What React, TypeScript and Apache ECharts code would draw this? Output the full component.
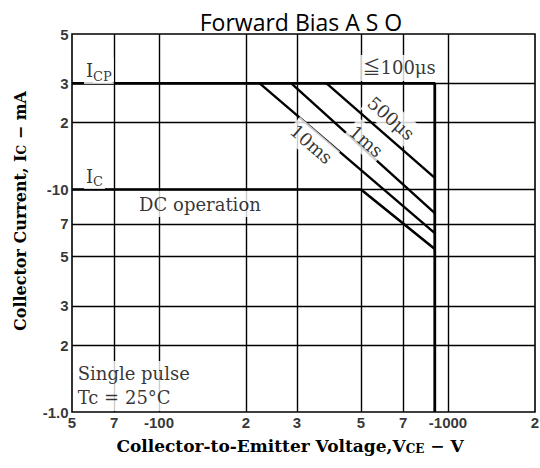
import React, { useEffect, useRef } from "react";
import * as echarts from "echarts";

// Axis ticks (log-log plot)
const xTickValues = [50, 70, 100, 200, 300, 500, 700, 1000, 2000];
const xTickLabels = ["5", "7", "-100", "2", "3", "5", "7", "-1000", "2"];
const yTickValues = [1, 2, 3, 5, 7, 10, 20, 30, 50];
const yTickLabels = ["-1.0", "2", "3", "5", "7", "-10", "2", "3", "5"];
const xGrid = [70, 100, 200, 300, 500, 700, 1000];
const yGrid = [2, 3, 5, 7, 10, 20, 30];

// Safe operating area curves (V in volts, I in mA)
const boundaryV = [50, 900, 900];
const boundaryI = [30, 30, 1];
const dcV = [50, 500, 900];
const dcI = [10, 10, 5.4];
const p10msV = [223, 900];
const p10msI = [30, 6.37];
const p1msV = [287, 900];
const p1msI = [30, 7.84];
const p500usV = [380, 900];
const p500usI = [30, 11.27];

// Annotations
const noteTexts = ["I{s|CP}", "I{s|C}", "DC operation", "≦100μs", "500μs", "1ms", "10ms", "Single pulse\nTc = 25°C"];
const noteV = [55, 55, 84, 498, 636, 521, 337, 51.5];
const noteI = [34.1, 11.5, 8.6, 35.2, 20.9, 16.5, 16.0, 1.31];
const noteRotate = [0, 0, 0, 0, -41, -41, -41, 0];
const noteAlign = ["left", "left", "left", "left", "center", "center", "center", "left"];

const SERIF = "'DejaVu Serif', 'Noto Sans CJK JP', serif";
const TICKFONT = "'Liberation Sans', Arial, sans-serif";
const BOLDSERIF = "'DejaVu Serif', serif";

function pts(v: number[], i: number[]) {
  return v.map((x, k) => [x, i[k]]);
}

export default function App() {
  const ref = useRef<HTMLDivElement>(null);
  useEffect(() => {
    const chart = echarts.init(ref.current!, null, { renderer: "svg" });
    const curve = (name: string, data: number[][], width: number) => ({
      name,
      type: "line",
      data,
      symbol: "none",
      showSymbol: false,
      silent: true,
      lineStyle: { color: "#000", width },
      z: 3,
    });
    const option: any = {
      animation: false,
      backgroundColor: "#fff",
      grid: {
        left: 72,
        right: 5,
        top: 34,
        bottom: 56,
        show: true,
        borderColor: "#000",
        borderWidth: 1.6,
        backgroundColor: "#fff",
      },
      xAxis: {
        type: "log",
        logBase: 10,
        min: 50,
        max: 2000,
        axisLine: { show: false },
        axisTick: { show: false },
        axisLabel: { show: false },
        splitLine: { show: false },
      },
      yAxis: {
        type: "log",
        logBase: 10,
        min: 1,
        max: 50,
        axisLine: { show: false },
        axisTick: { show: false },
        axisLabel: { show: false },
        splitLine: { show: false },
      },
      graphic: [
        {
          type: "text",
          x: 301,
          y: 22,
          style: {
            text: "Forward Bias A S O",
            fontFamily: "'Open Sans', sans-serif",
            fontSize: 23,
            fill: "#000",
            textAlign: "center",
            textVerticalAlign: "middle",
          },
        },
        {
          type: "text",
          x: 290,
          y: 446,
          style: {
            text: "Collector-to-Emitter Voltage,V{s|CE} − V",
            fontFamily: BOLDSERIF,
            fontWeight: "bold",
            fontSize: 17,
            fill: "#000",
            textAlign: "center",
            textVerticalAlign: "middle",
            rich: {
              s: { fontFamily: BOLDSERIF, fontWeight: "bold", fontSize: 12, verticalAlign: "bottom", lineHeight: 11 },
            },
          },
        },
        {
          type: "text",
          x: 20,
          y: 211,
          rotation: Math.PI / 2,
          style: {
            text: "Collector Current, I{s|C} − mA",
            fontFamily: BOLDSERIF,
            fontWeight: "bold",
            fontSize: 16,
            fill: "#000",
            textAlign: "center",
            textVerticalAlign: "middle",
            rich: {
              s: { fontFamily: BOLDSERIF, fontWeight: "bold", fontSize: 12, verticalAlign: "bottom", lineHeight: 11 },
            },
          },
        },
      ],
      series: [
        {
          name: "grid",
          type: "lines",
          coordinateSystem: "cartesian2d",
          silent: true,
          polyline: false,
          lineStyle: { color: "#000", width: 1.4, opacity: 1 },
          z: 1,
          data: [
            ...xGrid.map((v) => ({ coords: [[v, 1], [v, 50]] })),
            ...yGrid.map((v) => ({ coords: [[50, v], [2000, v]] })),
          ],
        },
        curve("boundary", pts(boundaryV, boundaryI), 2.8),
        curve("DC", pts(dcV, dcI), 2.6),
        curve("10ms", pts(p10msV, p10msI), 2.4),
        curve("1ms", pts(p1msV, p1msI), 2.4),
        curve("500us", pts(p500usV, p500usI), 2.4),
        {
          name: "xticks",
          type: "scatter",
          symbolSize: 1,
          clip: false,
          silent: true,
          itemStyle: { color: "rgba(0,0,0,0)" },
          z: 6,
          label: {
            show: true,
            position: "bottom",
            distance: 2,
            formatter: "{b}",
            fontFamily: TICKFONT,
            fontWeight: "bold",
            fontSize: 15,
            color: "#000",
          },
          data: xTickValues.map((v, k) => ({ name: xTickLabels[k], value: [v, 1] })),
        },
        {
          name: "yticks",
          type: "scatter",
          symbolSize: 1,
          clip: false,
          silent: true,
          itemStyle: { color: "rgba(0,0,0,0)" },
          z: 6,
          label: {
            show: true,
            position: "left",
            distance: 3,
            formatter: "{b}",
            fontFamily: TICKFONT,
            fontWeight: "bold",
            fontSize: 15,
            color: "#000",
          },
          data: yTickValues.map((v, k) => ({ name: yTickLabels[k], value: [50, v] })),
        },
        {
          name: "notes",
          type: "scatter",
          symbolSize: 1,
          clip: false,
          silent: true,
          itemStyle: { color: "rgba(0,0,0,0)" },
          z: 8,
          data: noteTexts.map((t, k) => ({
            name: t,
            value: [noteV[k], noteI[k]],
            label: {
              show: true,
              position: "inside",
              formatter: t,
              align: noteAlign[k],
              verticalAlign: "middle",
              rotate: noteRotate[k],
              fontFamily: SERIF,
              fontSize: 18,
              lineHeight: 24,
              color: "#000",
              backgroundColor: "#fff",
              padding: [1, 2, 1, 2],
              rich: {
                s: { fontFamily: SERIF, fontSize: 13, verticalAlign: "bottom", lineHeight: 11, backgroundColor: "#fff" },
              },
            },
          })),
        },
      ],
    };
    chart.setOption(option);
    return () => chart.dispose();
  }, []);
  return (
    <div
      ref={ref}
      style={{ position: "absolute", left: 0, top: 0, width: 540, height: 468, background: "#fff" }}
    />
  );
}
